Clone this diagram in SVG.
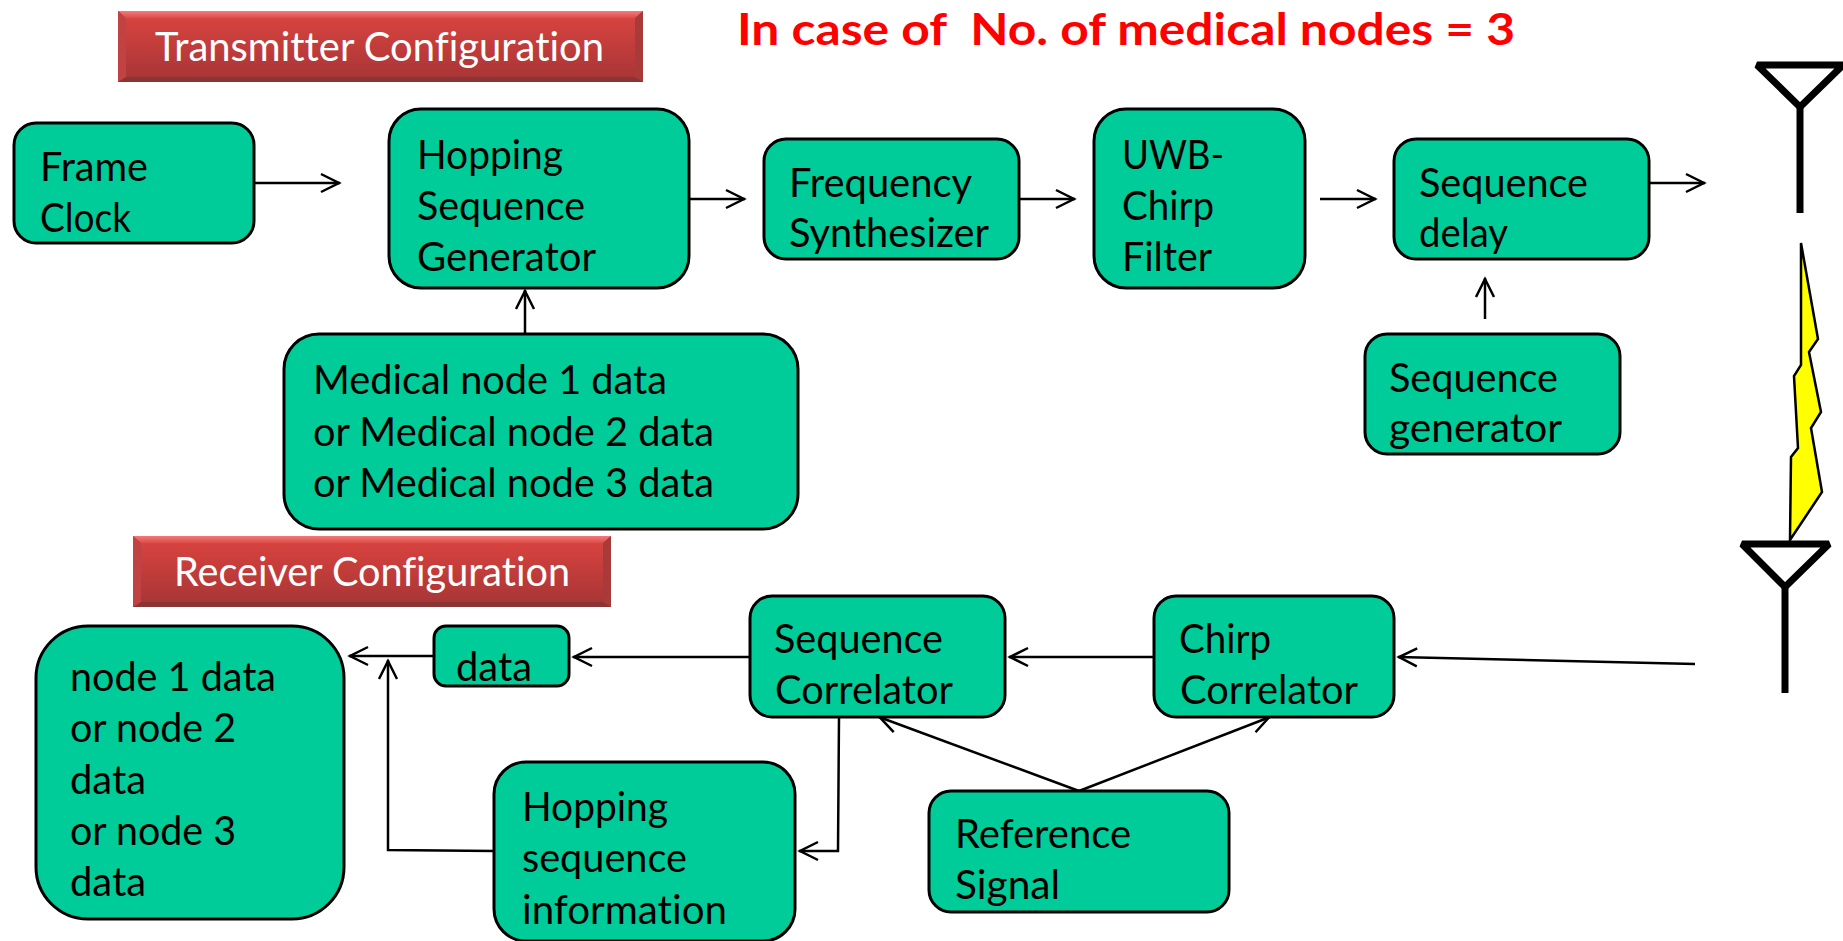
<svg xmlns="http://www.w3.org/2000/svg" width="1843" height="941" viewBox="0 0 1843 941">
<style>
.n{fill:#00cc99;stroke:#000;stroke-width:3}
.t{font-family:Lato,"Noto Sans",sans-serif;font-size:40px;fill:#000;font-variant-ligatures:none;transform:translateY(1px)}
.w{font-family:Lato,"Noto Sans",sans-serif;font-size:40px;fill:#fff;font-variant-ligatures:none}
.c{fill:none;stroke:#000;stroke-width:2.5;marker-end:url(#a)}
.ant{fill:none;stroke:#000;stroke-width:7;stroke-linejoin:bevel}
</style>
<defs>
<marker id="a" markerUnits="userSpaceOnUse" markerWidth="24" markerHeight="24" refX="21" refY="12" orient="auto"><path d="M2 3L20 12L2 21" fill="none" stroke="#000" stroke-width="2.5"/></marker>
<linearGradient id="g" x1="0" y1="0" x2="0" y2="1"><stop offset="0" stop-color="#dc4440"/><stop offset="1" stop-color="#a53535"/></linearGradient>
<linearGradient id="gt" x1="0" y1="0" x2="0" y2="1"><stop offset="0" stop-color="#f47a7a"/><stop offset="1" stop-color="#dc4c48"/></linearGradient>
</defs>
<rect width="1843" height="941" fill="#fff"/>
<text x="737" y="45" font-family="Lato,'Liberation Sans',sans-serif" font-weight="700" font-size="44" fill="#ff0000" textLength="778" lengthAdjust="spacingAndGlyphs" xml:space="preserve">In case of  No. of medical nodes = 3</text>
<g id="connectors">
<path class="c" d="M254 183H340"/>
<path class="c" d="M689 199H745"/>
<path class="c" d="M1019 199H1075"/>
<path class="c" d="M1320 199H1376"/>
<path class="c" d="M1649 183H1705"/>
<path class="c" d="M1485 319V278"/>
<path class="c" d="M525 334V290"/>
<path class="c" d="M1695 664L1398 657"/>
<path class="c" d="M1154 657H1009"/>
<path class="c" d="M750 657H573"/>
<path class="c" d="M434 656H349"/>
<path class="c" d="M494 851L388 850V660"/>
<path class="c" d="M839 717L838 851H799"/>
<path class="c" d="M1079 791L879 717"/>
<path class="c" d="M1079 791L1270 717"/>
</g>
<g id="tx-title">
<rect x="118" y="11" width="525" height="71" fill="url(#g)"/>
<path d="M118 11H643L635 18H126Z" fill="url(#gt)"/>
<path d="M118 82H643L635 77H126Z" fill="#8a3535"/>
<path d="M118 11L126 18V77L118 82Z" fill="#c04242"/>
<path d="M643 11L635 18V77L643 82Z" fill="#a83a3a"/>
<text class="w" x="155" y="61" textLength="449" lengthAdjust="spacingAndGlyphs">Transmitter Configuration</text>
</g>
<g id="rx-title">
<rect x="133" y="536" width="478" height="71" fill="url(#g)"/>
<path d="M133 536H611L603 543H141Z" fill="url(#gt)"/>
<path d="M133 607H611L603 602H141Z" fill="#8a3535"/>
<path d="M133 536L141 543V602L133 607Z" fill="#c04242"/>
<path d="M611 536L603 543V602L611 607Z" fill="#a83a3a"/>
<text class="w" x="174" y="586" textLength="396" lengthAdjust="spacingAndGlyphs">Receiver Configuration</text>
</g>
<g id="frame-clock"><rect class="n" x="14" y="123" width="240" height="120" rx="22"/>
<text class="t" x="40" y="180" textLength="108" lengthAdjust="spacingAndGlyphs">Frame</text><text class="t" x="40" y="231" textLength="91" lengthAdjust="spacingAndGlyphs">Clock</text></g>
<g id="hopping-generator"><rect class="n" x="389" y="109" width="300" height="179" rx="32"/>
<text class="t" x="417" y="168" textLength="146" lengthAdjust="spacingAndGlyphs">Hopping</text><text class="t" x="417" y="219" textLength="168" lengthAdjust="spacingAndGlyphs">Sequence</text><text class="t" x="417" y="270" textLength="179" lengthAdjust="spacingAndGlyphs">Generator</text></g>
<g id="frequency-synthesizer"><rect class="n" x="764" y="139" width="255" height="120" rx="22"/>
<text class="t" x="789" y="196" textLength="183" lengthAdjust="spacingAndGlyphs">Frequency</text><text class="t" x="789" y="246" textLength="200" lengthAdjust="spacingAndGlyphs">Synthesizer</text></g>
<g id="uwb-filter"><rect class="n" x="1094" y="109" width="211" height="179" rx="32"/>
<text class="t" x="1122" y="168" textLength="102" lengthAdjust="spacingAndGlyphs">UWB-</text><text class="t" x="1122" y="219" textLength="92" lengthAdjust="spacingAndGlyphs">Chirp</text><text class="t" x="1122" y="270" textLength="90" lengthAdjust="spacingAndGlyphs">Filter</text></g>
<g id="sequence-delay"><rect class="n" x="1394" y="139" width="255" height="120" rx="22"/>
<text class="t" x="1419" y="196" textLength="169" lengthAdjust="spacingAndGlyphs">Sequence</text><text class="t" x="1419" y="246" textLength="89" lengthAdjust="spacingAndGlyphs">delay</text></g>
<g id="sequence-generator"><rect class="n" x="1365" y="334" width="255" height="120" rx="22"/>
<text class="t" x="1389" y="391" textLength="169" lengthAdjust="spacingAndGlyphs">Sequence</text><text class="t" x="1389" y="441" textLength="173" lengthAdjust="spacingAndGlyphs">generator</text></g>
<g id="medical-data"><rect class="n" x="284" y="334" width="514" height="195" rx="35"/>
<text class="t" x="313" y="393" textLength="354" lengthAdjust="spacingAndGlyphs">Medical node 1 data</text><text class="t" x="313" y="445" textLength="401" lengthAdjust="spacingAndGlyphs">or Medical node 2 data</text><text class="t" x="313" y="496" textLength="401" lengthAdjust="spacingAndGlyphs">or Medical node 3 data</text></g>
<g id="node-data"><rect class="n" x="36" y="626" width="308" height="293" rx="52"/>
<text class="t" x="70" y="690" textLength="206" lengthAdjust="spacingAndGlyphs">node 1 data</text><text class="t" x="70" y="741" textLength="166" lengthAdjust="spacingAndGlyphs">or node 2</text><text class="t" x="70" y="793" textLength="76" lengthAdjust="spacingAndGlyphs">data</text><text class="t" x="70" y="844" textLength="166" lengthAdjust="spacingAndGlyphs">or node 3</text><text class="t" x="70" y="895" textLength="76" lengthAdjust="spacingAndGlyphs">data</text></g>
<g id="data"><rect class="n" x="434" y="626" width="135" height="60" rx="12"/>
<text class="t" x="456" y="680" textLength="76" lengthAdjust="spacingAndGlyphs">data</text></g>
<g id="sequence-correlator"><rect class="n" x="750" y="596" width="255" height="121" rx="22"/>
<text class="t" x="774" y="652" textLength="169" lengthAdjust="spacingAndGlyphs">Sequence</text><text class="t" x="775" y="703" textLength="178" lengthAdjust="spacingAndGlyphs">Correlator</text></g>
<g id="chirp-correlator"><rect class="n" x="1154" y="596" width="240" height="121" rx="22"/>
<text class="t" x="1179" y="652" textLength="92" lengthAdjust="spacingAndGlyphs">Chirp</text><text class="t" x="1180" y="703" textLength="178" lengthAdjust="spacingAndGlyphs">Correlator</text></g>
<g id="hopping-info"><rect class="n" x="494" y="762" width="301" height="179" rx="32"/>
<text class="t" x="522" y="820" textLength="146" lengthAdjust="spacingAndGlyphs">Hopping</text><text class="t" x="522" y="871" textLength="165" lengthAdjust="spacingAndGlyphs">sequence</text><text class="t" x="522" y="923" textLength="205" lengthAdjust="spacingAndGlyphs">information</text></g>
<g id="reference-signal"><rect class="n" x="929" y="791" width="300" height="121" rx="22"/>
<text class="t" x="955" y="847" textLength="176" lengthAdjust="spacingAndGlyphs">Reference</text><text class="t" x="955" y="898" textLength="105" lengthAdjust="spacingAndGlyphs">Signal</text></g>
<g id="tx-antenna"><path class="ant" d="M1757 65H1843L1800 107Z"/><path class="ant" d="M1800 107V213"/></g>
<path id="bolt" d="M1801 243L1818 339L1809 352L1821 412L1811 428L1822 492L1790 540L1791 457L1798 448L1794 376L1801 365Z" fill="#ffff00" stroke="#000" stroke-width="2.5"/>
<g id="rx-antenna"><path class="ant" d="M1742 544H1829L1785 587Z"/><path class="ant" d="M1785 587V693"/></g>
</svg>
